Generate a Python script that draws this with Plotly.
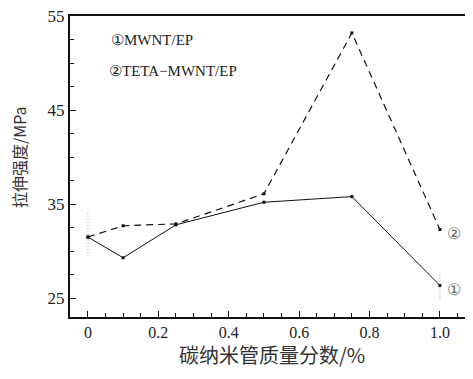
import plotly.graph_objects as go

x_vals = [0, 0.1, 0.25, 0.5, 0.75, 1.0]
s1_vals = [31.5, 29.3, 32.8, 35.2, 35.8, 26.35]   # ① MWNT/EP
s2_vals = [31.5, 32.7, 32.9, 36.1, 53.2, 32.3]   # ② TETA-MWNT/EP
err_x = [0, 1.0]
err_center = [31.5, 26.35]
err_plus = [2.8, 1.3]
err_minus = [2.0, 1.5]

legend_lines = ["①MWNT/EP", "②TETA−MWNT/EP"]
x_title = "碳纳米管质量分数/%"
y_title = "拉伸强度/MPa"
x_ticks = [0, 0.2, 0.4, 0.6, 0.8, 1.0]
x_ticklabels = ["0", "0.2", "0.4", "0.6", "0.8", "1.0"]
y_ticks = [25, 35, 45, 55]

serif = "'Times New Roman', 'Liberation Serif', serif"
cjk = "Noto Sans CJK SC"

fig = go.Figure()

ex, ey = [], []
for xv, c, p, m in zip(err_x, err_center, err_plus, err_minus):
    ex += [xv, xv, None]
    ey += [c - m, c + p, None]
fig.add_trace(go.Scatter(x=ex, y=ey, mode="lines",
                         line=dict(color="#9a9a9a", width=1, dash="1px,2px"),
                         showlegend=False, hoverinfo="skip"))

fig.add_trace(go.Scatter(x=x_vals, y=s2_vals, mode="lines+markers",
                         line=dict(color="#111", width=1.2, dash="7px,5px"),
                         marker=dict(symbol="square", size=3, color="#111"),
                         showlegend=False))
fig.add_trace(go.Scatter(x=x_vals, y=s1_vals, mode="lines+markers",
                         line=dict(color="#111", width=1),
                         marker=dict(symbol="square", size=3, color="#111"),
                         showlegend=False))

annotations = [
    dict(x=0.06, y=52.4, xref="x", yref="y", text=legend_lines[0],
         showarrow=False, xanchor="left", yanchor="middle",
         font=dict(family=serif, size=15, color="#222")),
    dict(x=0.055, y=49.2, xref="x", yref="y", text=legend_lines[1],
         showarrow=False, xanchor="left", yanchor="middle",
         font=dict(family=serif, size=15, color="#222")),
    dict(x=1.0, y=s2_vals[-1], xref="x", yref="y", text="②",
         showarrow=False, xanchor="left", yanchor="middle", xshift=5, yshift=-4,
         font=dict(family=serif, size=16, color="#666")),
    dict(x=1.0, y=s1_vals[-1], xref="x", yref="y", text="①",
         showarrow=False, xanchor="left", yanchor="middle", xshift=5, yshift=-4,
         font=dict(family=serif, size=16, color="#666")),
    dict(x=0.5, y=-0.125, xref="paper", yref="paper", text=x_title,
         showarrow=False, xanchor="center", yanchor="middle",
         font=dict(family=cjk, size=20, color="#333")),
    dict(x=-0.125, y=0.53, xref="paper", yref="paper", text=y_title, textangle=-90,
         showarrow=False, xanchor="center", yanchor="middle",
         font=dict(family=cjk, size=16, color="#333")),
]

fig.update_layout(
    width=465, height=371,
    margin=dict(l=62, r=0, t=8, b=62),
    paper_bgcolor="white", plot_bgcolor="white",
    showlegend=False,
    annotations=annotations,
    xaxis=dict(
        range=[-0.051, 1.094], showgrid=False, zeroline=False, automargin=False,
        showline=True, linecolor="#111", linewidth=2, mirror=True,
        ticks="inside", ticklen=6, tickwidth=1, tickcolor="#111",
        tickvals=x_ticks, ticktext=x_ticklabels,
        minor=dict(dtick=0.05, tick0=0, ticks="inside", ticklen=4, tickcolor="#111", showgrid=False),
        tickfont=dict(family=serif, size=16, color="#222"),
    ),
    yaxis=dict(
        range=[23, 55], showgrid=False, zeroline=False, automargin=False,
        showline=True, linecolor="#111", linewidth=2,
        ticks="inside", ticklen=6, tickwidth=1, tickcolor="#111",
        tickvals=y_ticks, ticklabeloverflow="allow",
        minor=dict(dtick=2.5, tick0=25, ticks="inside", ticklen=4, tickcolor="#111", showgrid=False),
        tickfont=dict(family=serif, size=17, color="#222"),
    ),
)

fig.write_html("out.html")
